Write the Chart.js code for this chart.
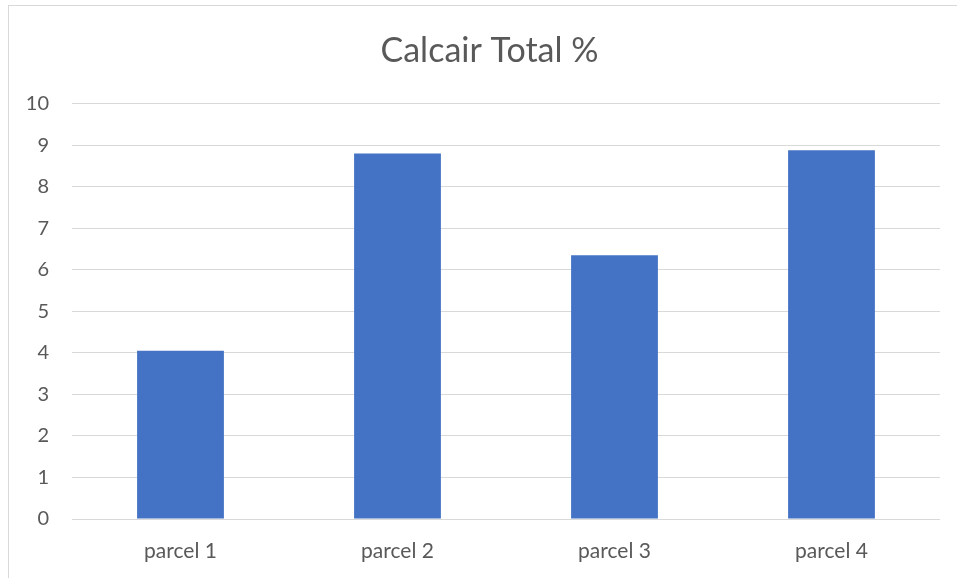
<!DOCTYPE html>
<html>
<head>
<meta charset="utf-8">
<script src="https://cdn.jsdelivr.net/npm/chart.js@4"></script>
<style>
  html, body { margin: 0; padding: 0; background: #fff; }
  #wrap { position: relative; width: 957px; height: 578px; overflow: hidden; }
  #frame { position: absolute; left: 8px; top: 5px; width: 1000px; height: 700px;
           border-left: 1px solid #d9d9d9; border-top: 1px solid #d9d9d9; }
  canvas { position: absolute; left: 0; top: 0; }
</style>
</head>
<body>
<div id="wrap">
  <div id="frame"></div>
  <canvas id="calcairChart" width="957" height="578"></canvas>
</div>
<script>
const labels = ["parcel 1", "parcel 2", "parcel 3", "parcel 4"];
const calcairValues = [4.05, 8.8, 6.35, 8.88];
const yMin = 0;
const yMax = 10;
const yStep = 1;

const textColor = "#595959";
const fontFamily = "Lato, 'Open Sans', sans-serif";

// nudge the title box so its centre sits where the original has it
const titleShift = {
  id: "titleShift",
  beforeDraw(chart) {
    if (chart.titleBlock) chart.titleBlock.left = 39;
  }
};

const calcairChart = new Chart(
  document.getElementById("calcairChart"),
  {
    type: "bar",
    data: {
      labels,
      datasets: [
        {
          label: "Calcair Total %",
          data: calcairValues,
          backgroundColor: "#4472c4",
          barPercentage: 0.4,
          categoryPercentage: 1.0,
        }
      ]
    },
    options: {
      responsive: false,
      animation: false,
      layout: { padding: { left: 0, right: 17, top: 0, bottom: 0 } },
      plugins: {
        legend: { display: false },
        tooltip: { enabled: false },
        title: {
          display: true,
          text: "Calcair Total %",
          color: textColor,
          font: { family: fontFamily, size: 34, weight: "normal" },
          padding: { top: 31, bottom: 32 },
        }
      },
      scales: {
        x: {
          grid: { display: false, drawTicks: false },
          border: { display: false },
          ticks: { color: textColor, font: { family: fontFamily, size: 21 }, padding: 20 },
          afterFit: (scale) => { scale.height = 59; },
        },
        y: {
          min: yMin,
          max: yMax,
          grid: { color: "#d9d9d9", lineWidth: 1, drawTicks: false },
          border: { display: false },
          ticks: { stepSize: yStep, color: textColor, font: { family: fontFamily, size: 20 }, padding: 23 },
          afterFit: (scale) => { scale.width = 72; },
        }
      }
    },
    plugins: [titleShift]
  }
);
</script>
</body>
</html>
